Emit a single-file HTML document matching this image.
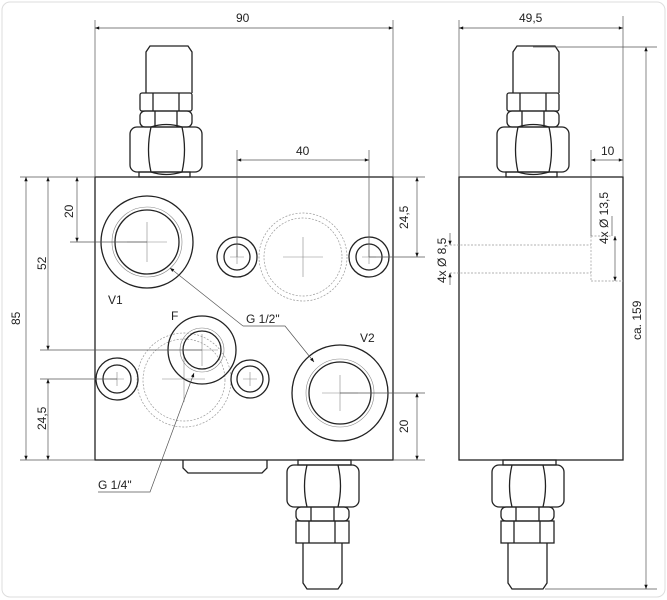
<!DOCTYPE html>
<html><head><meta charset="utf-8"><style>
html,body{margin:0;padding:0;background:#fff}
svg{display:block}
text{font-family:"Liberation Sans",sans-serif;font-size:12px;fill:#222}
.o{fill:none;stroke:#222;stroke-width:1.3}
.t{fill:none;stroke:#555;stroke-width:0.7}
.d{fill:none;stroke:#999;stroke-width:0.7;stroke-dasharray:2 1.5}
.g{fill:none;stroke:#888;stroke-width:0.6}
</style></head><body>
<svg width="667" height="600" viewBox="0 0 667 600" xmlns="http://www.w3.org/2000/svg">
<defs>
<marker id="a" viewBox="0 0 10 10" refX="10" refY="5" markerWidth="8" markerHeight="6" orient="auto-start-reverse"><path d="M0,1 L10,5 L0,9z" fill="#111"/></marker>
<g id="topv">
<path class="o" d="M-20,93 V52 L-16,46 H22 L26,52 V93"/>
<rect class="o" x="-26" y="93" width="52" height="18" rx="2"/>
<path class="o" d="M-13,93V111M13,93V111"/>
<rect class="o" x="-26" y="111" width="52" height="16" rx="5"/>
<path class="o" d="M-11,111V127M11,111V127"/>
<rect class="o" x="-36" y="127" width="72" height="45" rx="7"/>
<path class="o" d="M-15,127 Q-20,150 -15,172 M16,127 Q21,150 16,172 M-15,127 Q0,122 16,127 M-15,172 Q0,177 16,172"/>
<rect class="o" x="-27" y="172" width="51" height="5"/>
</g>
<g id="botv">
<rect class="o" x="298" y="460" width="53" height="5"/>
<rect class="o" x="287" y="465" width="72" height="42" rx="7"/>
<path class="o" d="M307,465 Q302,486 307,507 M338,465 Q343,486 338,507"/>
<rect class="o" x="296" y="507" width="53" height="14" rx="5"/>
<path class="o" d="M311,507V521M334,507V521"/>
<rect class="o" x="296" y="521" width="53" height="22"/>
<path class="o" d="M309,521V543M335,521V543"/>
<path class="o" d="M303,543 V583 L307,589 H338 L342,583 V543"/>
</g>
</defs>
<rect x="2" y="2" width="663" height="595" rx="8" fill="none" stroke="#ddd" stroke-width="1"/>

<rect class="o" x="95" y="177" width="298" height="283"/>
<use href="#topv" x="166"/>
<use href="#botv"/>
<path class="o" d="M183,460 V468 L188,473 H262 L267,468 V460"/>

<circle class="o" cx="147" cy="242" r="46"/><circle class="g" cx="147" cy="242" r="35"/><circle class="o" cx="147" cy="242" r="32"/>
<path class="g" d="M127,242H167M147,222V262"/>
<circle class="d" cx="303" cy="257" r="44"/><circle class="d" cx="303" cy="257" r="39"/>
<path class="g" d="M283,257H323M303,237V277"/>
<circle class="o" cx="237" cy="257" r="20"/><circle class="o" cx="237" cy="257" r="13"/><path class="g" d="M230,257H244M237,250V264"/>
<circle class="o" cx="369" cy="257" r="20"/><circle class="o" cx="369" cy="257" r="13"/><path class="g" d="M362,257H376M369,250V264"/>
<circle class="d" cx="184" cy="380" r="47"/><circle class="d" cx="184" cy="380" r="41"/>
<path class="g" d="M162,379H205M184,357V402"/>
<circle class="o" cx="202" cy="350" r="34"/><circle class="g" cx="202" cy="350" r="22"/><circle class="o" cx="202" cy="350" r="19"/>
<path class="g" d="M186,350H218M202,334V366"/>
<circle class="o" cx="117" cy="379" r="21"/><circle class="o" cx="117" cy="379" r="14"/><path class="g" d="M110,379H124M117,372V386"/>
<circle class="o" cx="250" cy="379" r="19"/><circle class="o" cx="250" cy="379" r="13"/><path class="g" d="M243,379H257M250,372V386"/>
<circle class="o" cx="340" cy="393" r="48"/><circle class="g" cx="340" cy="393" r="34"/><circle class="o" cx="340" cy="393" r="31"/>
<path class="g" d="M322,393H358M340,375V411"/>

<text x="108" y="304">V1</text>
<text x="171" y="320">F</text>
<text x="360" y="342">V2</text>
<text x="246" y="323">G 1/2"</text>
<text x="98" y="489">G 1/4"</text>
<path class="t" d="M243,326 L170,268" marker-end="url(#a)"/>
<path class="t" d="M243,326 H285 L314,362" marker-end="url(#a)"/>
<path class="t" d="M98,492 H150 L194,373" marker-end="url(#a)"/>

<path class="t" d="M95,20V177M393,20V177"/>
<path class="t" d="M95,28H393" marker-start="url(#a)" marker-end="url(#a)"/>
<text x="236" y="22">90</text>
<path class="t" d="M237,150V257M369,150V257"/>
<path class="t" d="M237,160H369" marker-start="url(#a)" marker-end="url(#a)"/>
<text x="296" y="155">40</text>
<path class="t" d="M393,177H425M369,257H425M393,393H425M340,393H425M393,460H425"/>
<path class="t" d="M417,177V257" marker-start="url(#a)" marker-end="url(#a)"/>
<path class="t" d="M417,393V460" marker-start="url(#a)" marker-end="url(#a)"/>
<text transform="translate(408,229) rotate(-90)">24,5</text>
<text transform="translate(408,433) rotate(-90)">20</text>
<path class="t" d="M20,177H95M20,460H95M40,350H202M70,242H147M40,379H117"/>
<path class="t" d="M26,177V460" marker-start="url(#a)" marker-end="url(#a)"/>
<path class="t" d="M48,177V350" marker-start="url(#a)" marker-end="url(#a)"/>
<path class="t" d="M77,177V242" marker-start="url(#a)" marker-end="url(#a)"/>
<path class="t" d="M48,379V460" marker-start="url(#a)" marker-end="url(#a)"/>
<text transform="translate(20,325) rotate(-90)">85</text>
<text transform="translate(46,270) rotate(-90)">52</text>
<text transform="translate(73,218) rotate(-90)">20</text>
<text transform="translate(46,430) rotate(-90)">24,5</text>

<rect class="o" x="459" y="177" width="164" height="283"/>
<use href="#topv" x="533"/>
<use href="#botv" x="205"/>
<path class="d" d="M450,245H591M450,273H591M591,236V281M591,236H612M591,281H623"/>
<path class="t" d="M450,233V245" marker-end="url(#a)"/>
<path class="t" d="M450,285V273" marker-end="url(#a)"/>
<text transform="translate(446,283) rotate(-90)">4x Ø 8,5</text>
<path class="t" d="M615,236V281" marker-start="url(#a)" marker-end="url(#a)"/>
<path class="t" d="M612,216V236"/>
<text transform="translate(608,244) rotate(-90)">4x Ø 13,5</text>
<path class="t" d="M459,20V177M623,16V177M591,150V236"/>
<path class="t" d="M459,28H623" marker-start="url(#a)" marker-end="url(#a)"/>
<text x="519" y="22">49,5</text>
<path class="t" d="M591,160H623" marker-start="url(#a)" marker-end="url(#a)"/>
<text x="601" y="155">10</text>
<path class="t" d="M533,47H657M545,589H657"/>
<path class="t" d="M646,47V589" marker-start="url(#a)" marker-end="url(#a)"/>
<text transform="translate(641,340) rotate(-90)">ca. 159</text>
</svg>
</body></html>
